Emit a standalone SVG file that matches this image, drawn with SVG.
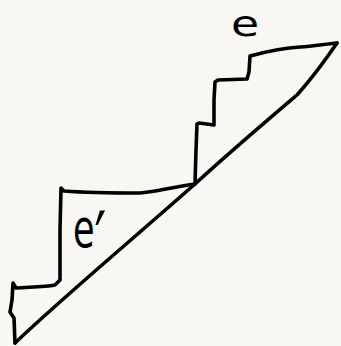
<svg xmlns="http://www.w3.org/2000/svg" width="341" height="346" viewBox="0 0 341 346">
<style>
.ink{fill:none;stroke:#000;stroke-width:3.6;stroke-linecap:round;stroke-linejoin:round}
.lbl{font-family:"DejaVu Sans",sans-serif;fill:#000}
</style>
<rect width="341" height="346" fill="#f9f7f3"/>
<g id="diagonal">
<path class="ink" d="M15,343 C60,300 120,250 195,184 C230,152 270,118 297,95 C305,86 320,68 337,43"/>
</g>
<g id="lower-stair">
<path class="ink" d="M15,343 L14,318 L10,312 L12,300 L13,283 L16,288 C30,287 45,287 55,285 L60,280 L60,230 L61,188 L64,191 C90,193 120,193 140,193 C155,192 167,188 195,184"/>
</g>
<g id="upper-stair">
<path class="ink" d="M195,184 L196,150 L197,124 L199,123 L214,125 L214,100 L215,82 L218,80 L247,79 L249,72 L250,56 C265,52 280,48 300,47 C315,46 325,44 337,43"/>
</g>
<g id="labels">
<text class="lbl" font-size="36" transform="translate(231,36) scale(1.27,1)">e</text>
<text class="lbl" font-size="54" transform="translate(73,247) scale(0.65,1)">e<tspan font-size="80" dy="22">′</tspan></text>
</g>
</svg>
